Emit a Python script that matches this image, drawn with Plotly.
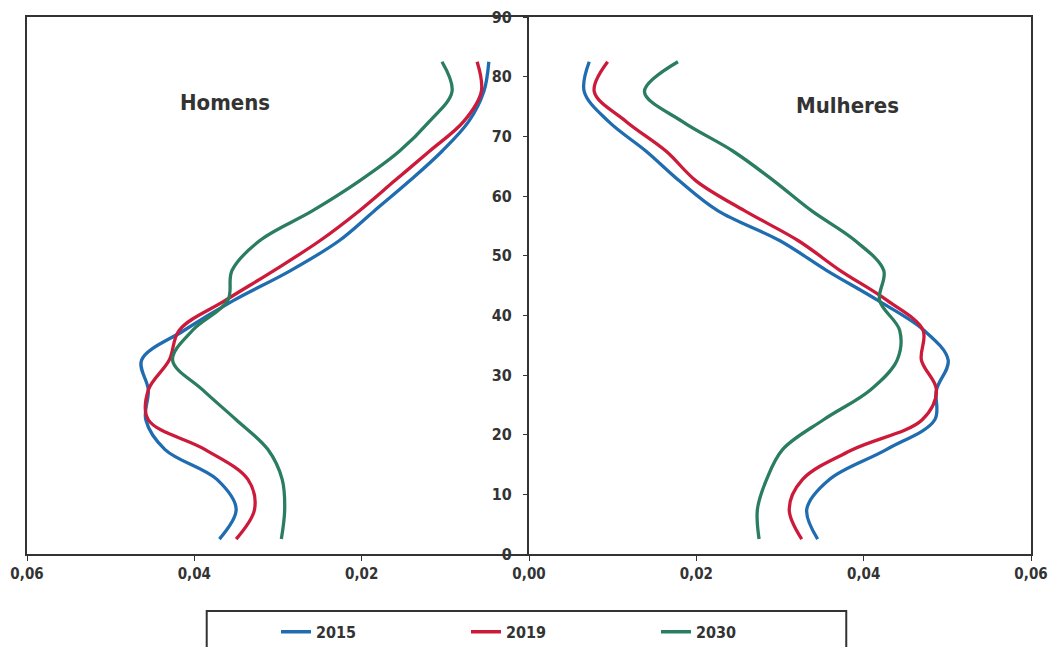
import plotly.graph_objects as go

ages = [2.5, 7.5, 12.5, 17.5, 22.5, 27.5, 32.5, 37.5, 42.5, 47.5, 52.5, 57.5, 62.5, 67.5, 72.5, 77.5, 82.5]

homens_2015 = [0.0370, 0.0350, 0.0373, 0.0435, 0.0458, 0.0455, 0.0463, 0.0412, 0.0353, 0.0285, 0.0227, 0.0185, 0.0143, 0.0104, 0.0072, 0.0054, 0.0048]
homens_2019 = [0.0350, 0.0328, 0.0336, 0.0387, 0.0455, 0.0455, 0.0430, 0.0418, 0.0363, 0.0305, 0.0250, 0.0203, 0.0161, 0.0119, 0.0078, 0.0057, 0.0062]
homens_2030 = [0.0296, 0.0292, 0.0295, 0.0312, 0.0350, 0.0390, 0.0426, 0.0402, 0.0360, 0.0355, 0.0322, 0.0259, 0.0203, 0.0155, 0.0119, 0.0092, 0.0104]

mulheres_2015 = [0.0345, 0.0332, 0.0359, 0.0427, 0.0485, 0.0487, 0.0501, 0.0472, 0.0417, 0.0356, 0.0300, 0.0226, 0.0180, 0.0140, 0.0095, 0.0066, 0.0072]
mulheres_2019 = [0.0326, 0.0311, 0.0327, 0.0387, 0.0470, 0.0487, 0.0469, 0.0471, 0.0428, 0.0372, 0.0322, 0.0258, 0.0200, 0.0164, 0.0116, 0.0078, 0.0094]
mulheres_2030 = [0.0275, 0.0273, 0.0284, 0.0303, 0.0352, 0.0408, 0.0440, 0.0443, 0.0419, 0.0424, 0.0390, 0.0338, 0.0293, 0.0244, 0.0183, 0.0138, 0.0178]

series_names = ["2015", "2019", "2030"]
colors = ["#1f6cb0", "#cc1a3a", "#2a7d5f"]

x_ticks_left = [0.06, 0.04, 0.02]
x_ticks_right = [0.00, 0.02, 0.04, 0.06]
y_ticks = [0, 10, 20, 30, 40, 50, 60, 70, 80, 90]

FONT = "DejaVu Sans Condensed, Liberation Sans Narrow, Arial Narrow, Liberation Sans, sans-serif"
TXT = "#333333"

fig = go.Figure()
for name, color, h, m in zip(series_names, colors,
                             [homens_2015, homens_2019, homens_2030],
                             [mulheres_2015, mulheres_2019, mulheres_2030]):
    fig.add_trace(go.Scatter(x=h, y=ages, xaxis="x", yaxis="y", mode="lines",
                             line=dict(color=color, width=3.3, shape="spline", smoothing=1),
                             name=name, legendgroup=name, showlegend=True))
    fig.add_trace(go.Scatter(x=m, y=ages, xaxis="x2", yaxis="y2", mode="lines",
                             line=dict(color=color, width=3.3, shape="spline", smoothing=1),
                             name=name, legendgroup=name, showlegend=False))

axis_common = dict(showgrid=False, zeroline=False, showline=True, linecolor=TXT,
                   linewidth=2, automargin=False, ticklabeloverflow="allow")
tickfont = dict(family=FONT, size=15, color=TXT, weight="bold")

fig.update_layout(
    width=1051, height=647,
    margin=dict(l=27, r=20, t=17, b=93, autoexpand=False),
    paper_bgcolor="white", plot_bgcolor="white",
    separators=", ",
    xaxis=dict(domain=[0, 0.5], range=[0.06, 0], tickvals=x_ticks_left, tickformat=".2f",
               ticks="outside", ticklen=5, tickcolor=TXT, tickfont=tickfont, anchor="y",
               mirror=True, **axis_common),
    yaxis=dict(domain=[0, 1], range=[0, 90], showticklabels=False, ticks="", anchor="x",
               mirror=False, **axis_common),
    xaxis2=dict(domain=[0.5, 1], range=[0, 0.06], tickvals=x_ticks_right, tickformat=".2f",
                ticks="outside", ticklen=5, tickcolor=TXT, tickfont=tickfont, anchor="y2",
                mirror=True, **axis_common),
    yaxis2=dict(domain=[0, 1], range=[0, 90], tickvals=y_ticks, ticks="outside", ticklen=4,
                tickcolor=TXT, tickfont=dict(family=FONT, size=16, color=TXT, weight="bold"),
                ticklabelstandoff=8, anchor="x2", mirror=True, **axis_common),
    legend=dict(orientation="h", x=0.248, xanchor="left", y=-0.145, yanchor="middle",
                entrywidth=145, entrywidthmode="pixels", bgcolor="rgba(0,0,0,0)",
                font=dict(family=FONT, size=16, color=TXT, weight="bold")),
    annotations=[
        dict(text="Homens", x=0.197, y=0.840, xref="paper", yref="paper", showarrow=False,
             xanchor="center", yanchor="middle",
             font=dict(family=FONT, size=22, color=TXT, weight="bold")),
        dict(text="Mulheres", x=0.817, y=0.836, xref="paper", yref="paper", showarrow=False,
             xanchor="center", yanchor="middle",
             font=dict(family=FONT, size=22, color=TXT, weight="bold")),
    ],
    shapes=[
        dict(type="rect", xref="paper", yref="paper", x0=0.179, x1=0.816, y0=-0.106, y1=-0.25,
             line=dict(color=TXT, width=2), fillcolor="rgba(0,0,0,0)", layer="below"),
    ],
)

fig.write_html("out.html",
               config={"displayModeBar": False},
               post_script="document.body.style.margin='0';document.body.style.overflow='hidden';")
